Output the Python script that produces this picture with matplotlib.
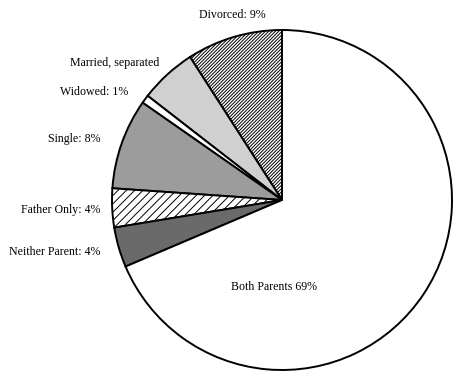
"""
Pie chart of living arrangements, drawn in the style of an old
black-and-white report figure (hatches and grey fills).
"""

import matplotlib
matplotlib.use("Agg")
import matplotlib.pyplot as plt

# shares, counter-clockwise from 12 o'clock
categories = ["Divorced", "Married, separated", "Widowed", "Single",
              "Father Only", "Neither Parent", "Both Parents"]
shares = [9.1, 5.4, 0.8, 8.6, 3.7, 3.8, 68.6]
labels = ["Divorced: 9%", "Married, separated", "Widowed: 1%", "Single: 8%",
          "Father Only: 4%", "Neither Parent: 4%", "Both Parents 69%"]

# fills per wedge: (facecolor, hatch)
fills = [("white", "/" * 10), ("#d0d0d0", None), ("white", None),
         ("#9c9c9c", None), ("white", "////"), ("#6a6a6a", None),
         ("white", None)]

# label anchors in pie units (radius = 1)
label_pos = [(-0.29, 1.09, "center"), (-0.72, 0.806, "right"),
             (-0.905, 0.635, "right"), (-1.07, 0.36, "right"),
             (-1.07, -0.06, "right"), (-1.07, -0.306, "right"),
             (-0.047, -0.51, "center")]

plt.rcParams["font.family"] = ["Liberation Serif", "DejaVu Serif"]
plt.rcParams["hatch.linewidth"] = 0.7

fig = plt.figure(figsize=(4.64, 3.76), dpi=100)
ax = fig.add_axes([0, 0, 1, 1])

wedges, _ = ax.pie(shares, startangle=90, counterclock=True, radius=1.0,
                   wedgeprops=dict(edgecolor="black", linewidth=1.4))
for w, (fc, hatch) in zip(wedges, fills):
    w.set_facecolor(fc)
    if hatch:
        w.set_hatch(hatch)

for text, (x, y, ha) in zip(labels, label_pos):
    ax.text(x, y, text, ha=ha, va="center", fontsize=8.6, color="black")

# center of pie sits at (282, 200) px, radius about 170 px
scale = 170.0
ax.set_aspect("auto")
ax.set_xlim(-282 / scale, (464 - 282) / scale)
ax.set_ylim(-(376 - 200) / scale, 200 / scale)
ax.axis("off")

fig.savefig("out.png", dpi=100)
